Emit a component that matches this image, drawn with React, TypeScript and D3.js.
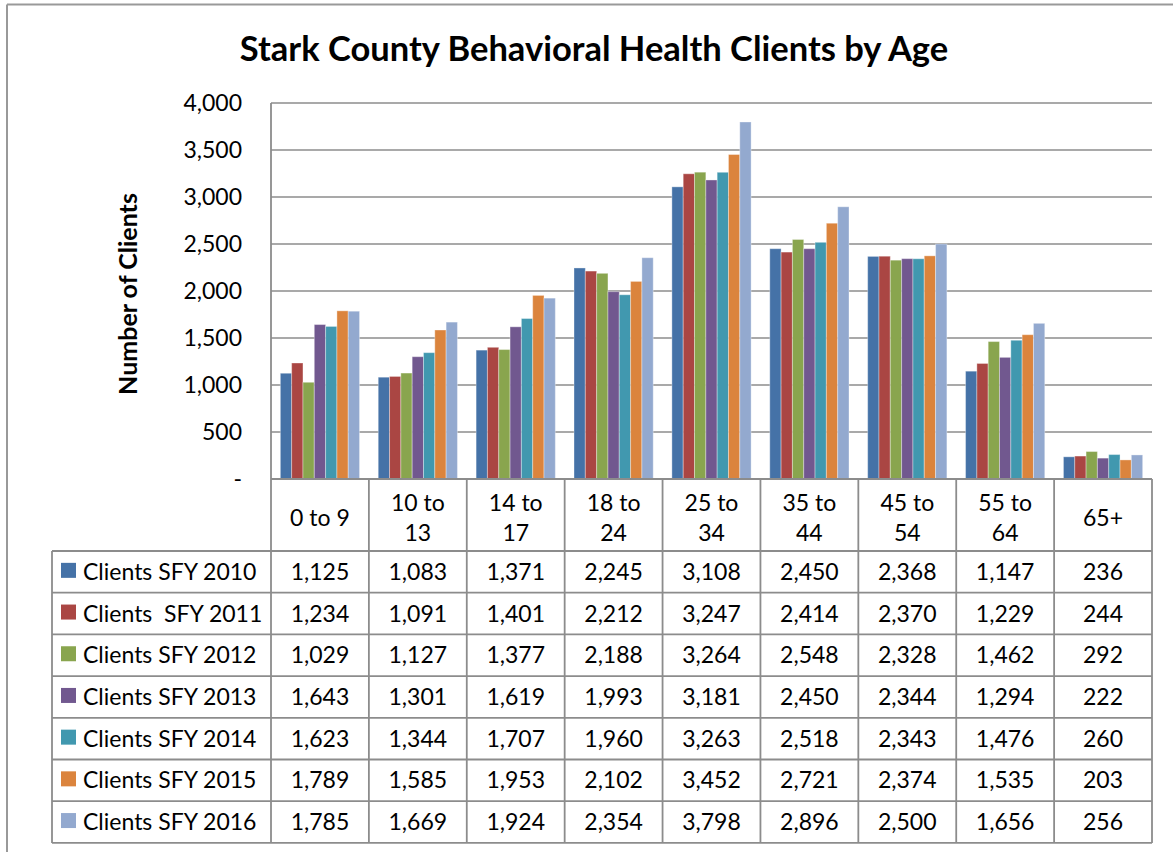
import React from "react";
import * as d3 from "d3";

const categories = ["0 to 9", "10 to 13", "14 to 17", "18 to 24", "25 to 34", "35 to 44", "45 to 54", "55 to 64", "65+"];
const seriesNames = ["Clients SFY 2010", "Clients  SFY 2011", "Clients SFY 2012", "Clients SFY 2013", "Clients SFY 2014", "Clients SFY 2015", "Clients SFY 2016"];
const sfy2010 = [1125, 1083, 1371, 2245, 3108, 2450, 2368, 1147, 236];
const sfy2011 = [1234, 1091, 1401, 2212, 3247, 2414, 2370, 1229, 244];
const sfy2012 = [1029, 1127, 1377, 2188, 3264, 2548, 2328, 1462, 292];
const sfy2013 = [1643, 1301, 1619, 1993, 3181, 2450, 2344, 1294, 222];
const sfy2014 = [1623, 1344, 1707, 1960, 3263, 2518, 2343, 1476, 260];
const sfy2015 = [1789, 1585, 1953, 2102, 3452, 2721, 2374, 1535, 203];
const sfy2016 = [1785, 1669, 1924, 2354, 3798, 2896, 2500, 1656, 256];
const seriesValues = [sfy2010, sfy2011, sfy2012, sfy2013, sfy2014, sfy2015, sfy2016];
const colors = ["#4572A7", "#AA4643", "#89A54E", "#71588F", "#4198AF", "#DB843D", "#93A9CF"];
const yTicks = [0, 500, 1000, 1500, 2000, 2500, 3000, 3500, 4000];

const W = 1173, H = 852;
const plotL = 271, plotR = 1152, plotT = 103, plotB = 479;
const headerB = 551, rowH = 41.7, legendL = 52;
const FONT = "Lato, 'Open Sans', sans-serif";
const GRID = "#8c8c8c";

export default function App() {
  const x = d3.scaleBand<string>().domain(categories).range([plotL, plotR]);
  const y = d3.scaleLinear().domain([0, 4000]).range([plotB, plotT]);
  const catW = x.bandwidth();
  const barW = catW / (7 + 1.65);
  const inner = d3.scaleBand<number>().domain(d3.range(7)).range([0, barW * 7]);
  const off = (catW - barW * 7) / 2;
  const fmt = d3.format(",");
  const tableB = headerB + rowH * seriesNames.length;

  const wrap = (s: string) => {
    if (s.length > 6) {
      const i = s.lastIndexOf(" ");
      return [s.slice(0, i), s.slice(i + 1)];
    }
    return [s];
  };

  return (
    <svg width={W} height={H} style={{ position: "absolute", left: 0, top: 0, background: "#fff" }} fontFamily={FONT}>
      <rect x={0} y={0} width={W} height={H} fill="#fff" />
      {/* outer border */}
      <line x1={7} x2={W} y1={4.5} y2={4.5} stroke="#999" strokeWidth={2} />
      <line x1={7} x2={7} y1={4.5} y2={H} stroke="#999" strokeWidth={2} />

      <text x={594} y={61} textAnchor="middle" fontSize={34.5} fontWeight="bold" fill="#000">
        Stark County Behavioral Health Clients by Age
      </text>

      {/* gridlines */}
      {yTicks.map((t) => (
        <line key={t} x1={plotL} x2={plotR} y1={y(t)} y2={y(t)} stroke={GRID} strokeWidth={1.5} />
      ))}
      {yTicks.map((t) => (
        <text key={"l" + t} x={242} y={y(t)} dy="0.35em" textAnchor="end" fontSize={23} fill="#000">
          {t === 0 ? "-" : fmt(t)}
        </text>
      ))}
      <text transform={`translate(137,294) rotate(-90)`} textAnchor="middle" fontSize={25} fontWeight="bold" fill="#000">
        Number of Clients
      </text>

      {/* bars */}
      {categories.map((c, ci) => (
        <g key={c}>
          {seriesValues.map((vals, si) => (
            <rect
              key={si}
              x={(x(c) as number) + off + (inner(si) as number)}
              y={y(vals[ci])}
              width={inner.bandwidth()}
              height={plotB - y(vals[ci])}
              fill={colors[si]}
              stroke="#ffffff"
              strokeOpacity={0.35}
              strokeWidth={1}
            />
          ))}
        </g>
      ))}

      {/* table lines */}
      <line x1={plotL} x2={plotL} y1={plotT} y2={tableB} stroke={GRID} strokeWidth={1.8} />
      <line x1={plotL} x2={plotR} y1={plotB} y2={plotB} stroke={GRID} strokeWidth={1.8} />
      {categories.map((c) => (
        <line key={"v" + c} x1={(x(c) as number) + catW} x2={(x(c) as number) + catW} y1={plotB} y2={tableB} stroke={GRID} strokeWidth={1.8} />
      ))}
      {d3.range(seriesNames.length + 1).map((i) => (
        <line key={"h" + i} x1={legendL} x2={plotR} y1={headerB + i * rowH} y2={headerB + i * rowH} stroke={GRID} strokeWidth={1.8} />
      ))}
      <line x1={legendL} x2={legendL} y1={headerB} y2={tableB} stroke={GRID} strokeWidth={1.8} />

      {/* header labels */}
      {categories.map((c) => {
        const lines = wrap(c);
        const cx = (x(c) as number) + catW / 2;
        const cy = (plotB + headerB) / 2 + 3;
        return (
          <text key={"c" + c} x={cx} textAnchor="middle" fontSize={23} fill="#000">
            {lines.map((ln, li) => (
              <tspan key={li} x={cx} y={cy + (li - (lines.length - 1) / 2) * 30} dy="0.35em">
                {ln}
              </tspan>
            ))}
          </text>
        );
      })}

      {/* rows */}
      {seriesNames.map((name, si) => {
        const cy = headerB + si * rowH + rowH / 2;
        return (
          <g key={name}>
            <rect x={61} y={cy - 9} width={15} height={15} fill={colors[si]} />
            <text x={83} y={cy} dy="0.35em" fontSize={23} fill="#000" style={{ whiteSpace: "pre" }} xmlSpace="preserve">
              {name}
            </text>
            {categories.map((c, ci) => (
              <text key={c} x={(x(c) as number) + catW / 2} y={cy} dy="0.35em" textAnchor="middle" fontSize={23} fill="#000">
                {fmt(seriesValues[si][ci])}
              </text>
            ))}
          </g>
        );
      })}
    </svg>
  );
}
